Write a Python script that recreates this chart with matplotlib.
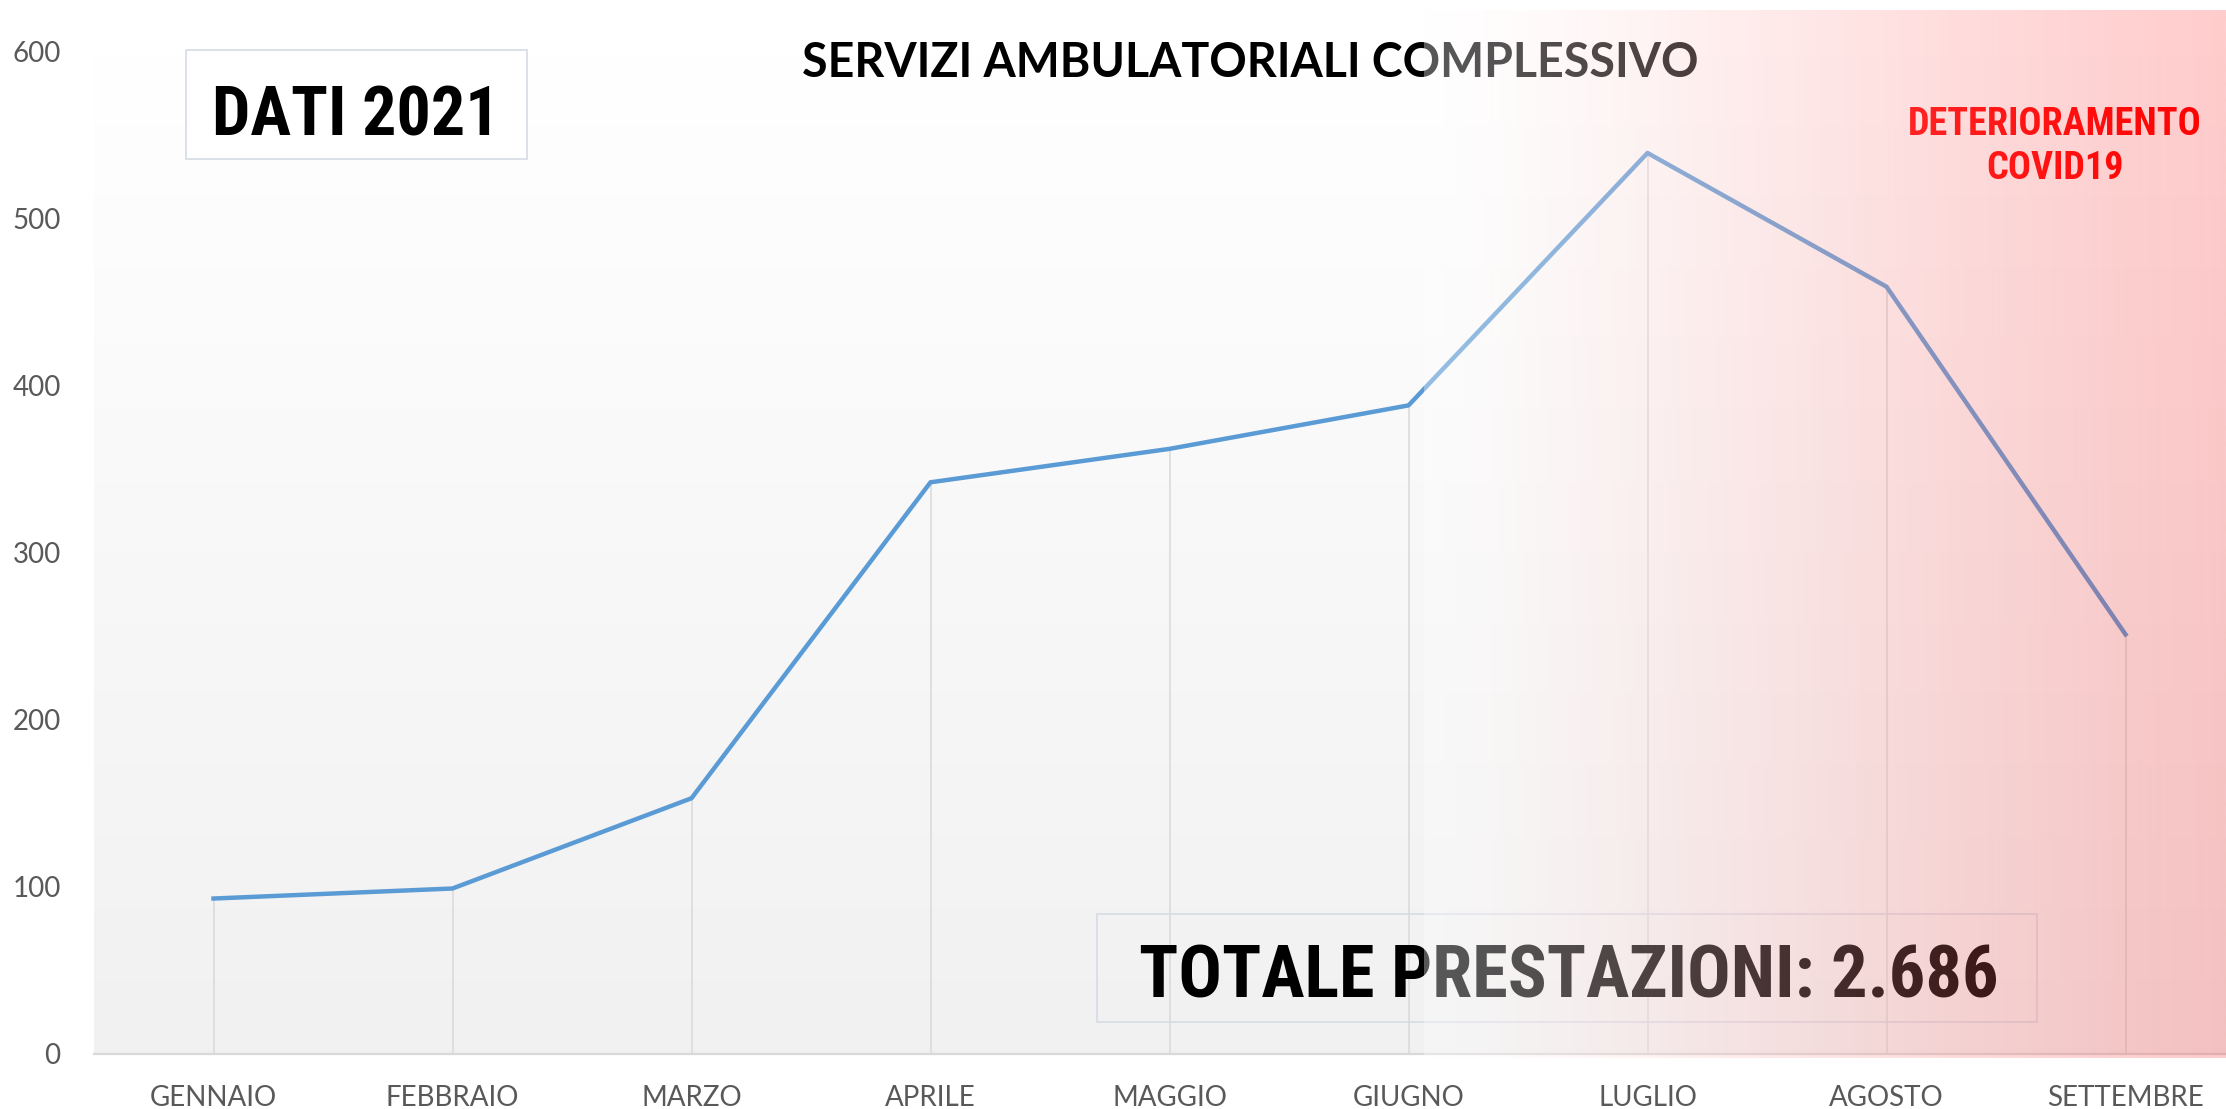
import numpy as np
import matplotlib
matplotlib.use("Agg")
import matplotlib.pyplot as plt
from matplotlib import font_manager
from matplotlib.patches import Rectangle

# dati mensili 2021
mesi = ["GENNAIO", "FEBBRAIO", "MARZO", "APRILE", "MAGGIO",
        "GIUGNO", "LUGLIO", "AGOSTO", "SETTEMBRE"]
prestazioni = [93, 99, 153, 342, 362, 388, 539, 459, 251]
y_ticks = [0, 100, 200, 300, 400, 500, 600]

W, H = 2226, 1109


def pick_font(names):
    for n in names:
        try:
            font_manager.findfont(n, fallback_to_default=False)
            return n
        except ValueError:
            pass
    return "DejaVu Sans"


narrow = pick_font(["Liberation Sans Narrow", "Roboto Condensed", "Liberation Sans"])
body = pick_font(["Lato", "Open Sans", "DejaVu Sans"])

fig = plt.figure(figsize=(W / 100, H / 100), dpi=100)
fig.patch.set_facecolor("white")

ax = fig.add_axes([94 / W, 55 / H, (2245 - 94) / W, (1054 - 51) / H])
x = np.arange(len(mesi))

# sfondo sfumato dell'area del grafico
grad = np.linspace(1.0, 0.945, 200)
bg = np.dstack([grad, grad, grad]).reshape(200, 1, 3)
ax.imshow(bg, extent=(-0.5, len(mesi) - 0.5, 0, 600), aspect="auto", zorder=0)

ax.vlines(x, 0, prestazioni, color="#d9d9d9", lw=1.1, zorder=1)
ax.plot(x, prestazioni, color="#5b9bd5", lw=3.2, zorder=3, solid_joinstyle="round")

ax.set_xlim(-0.5, len(mesi) - 0.5)
ax.set_ylim(0, 600)
ax.set_xticks(x)
ax.set_xticklabels(mesi)
ax.set_yticks(y_ticks)
for s in ["top", "right", "left"]:
    ax.spines[s].set_visible(False)
ax.spines["bottom"].set_color("#d9d9d9")
ax.spines["bottom"].set_linewidth(1.6)
ax.tick_params(axis="both", length=0, labelcolor="#595959", labelsize=20)
ax.tick_params(axis="x", pad=22)
ax.tick_params(axis="y", pad=24)
for lab in ax.get_xticklabels() + ax.get_yticklabels():
    lab.set_fontfamily(body)

# titolo
fig.text(1250 / W, 1 - 63 / H, "SERVIZI AMBULATORIALI COMPLESSIVO", ha="center", va="center",
         fontfamily=body, fontweight="bold", fontsize=33.5, color="black")

# riquadro DATI 2021
fig.add_artist(Rectangle((186 / W, 1 - 159 / H), (527 - 186) / W, (159 - 50) / H,
                         transform=fig.transFigure, fc="white", ec="#d6dce5", lw=1.2, zorder=2))
fig.text(356 / W, 1 - 135 / H, "DATI 2021", ha="center", va="baseline",
         fontfamily=narrow, fontweight="bold", fontsize=49, color="black", zorder=3)

# riquadro totale
fig.add_artist(Rectangle((1097 / W, 1 - 1022 / H), (2037 - 1097) / W, (1022 - 914) / H,
                         transform=fig.transFigure, fc="none", ec="#d6dce5", lw=1.2, zorder=2))
fig.text(1569 / W, 1 - 997 / H, "TOTALE PRESTAZIONI: 2.686", ha="center", va="baseline",
         fontfamily=narrow, fontweight="bold", fontsize=52, color="black", zorder=3)

fig.text(2055 / W, 1 - 135 / H, "DETERIORAMENTO", ha="center", va="baseline",
         fontfamily=narrow, fontweight="bold", fontsize=27.5, color="#ff0000", zorder=3)
fig.text(2055 / W, 1 - 179 / H, "COVID19", ha="center", va="baseline",
         fontfamily=narrow, fontweight="bold", fontsize=27.5, color="#ff0000", zorder=3)

# fascia rossa sfumata sopra tutto
ov = fig.add_axes([1424 / W, (H - 1058) / H, (W - 1424) / W, (1058 - 10) / H], zorder=10)
t = np.linspace(0, 1, 400)
rgba = np.zeros((1, 400, 4))
rgba[0, :, 0] = 1.0
rgba[0, :, 1] = 1 - t ** 1.5
rgba[0, :, 2] = 1 - t ** 1.5
rgba[0, :, 3] = 0.35 - 0.15 * t
ov.imshow(rgba, aspect="auto", interpolation="bilinear")
ov.axis("off")

fig.savefig("out.png", dpi=100)
